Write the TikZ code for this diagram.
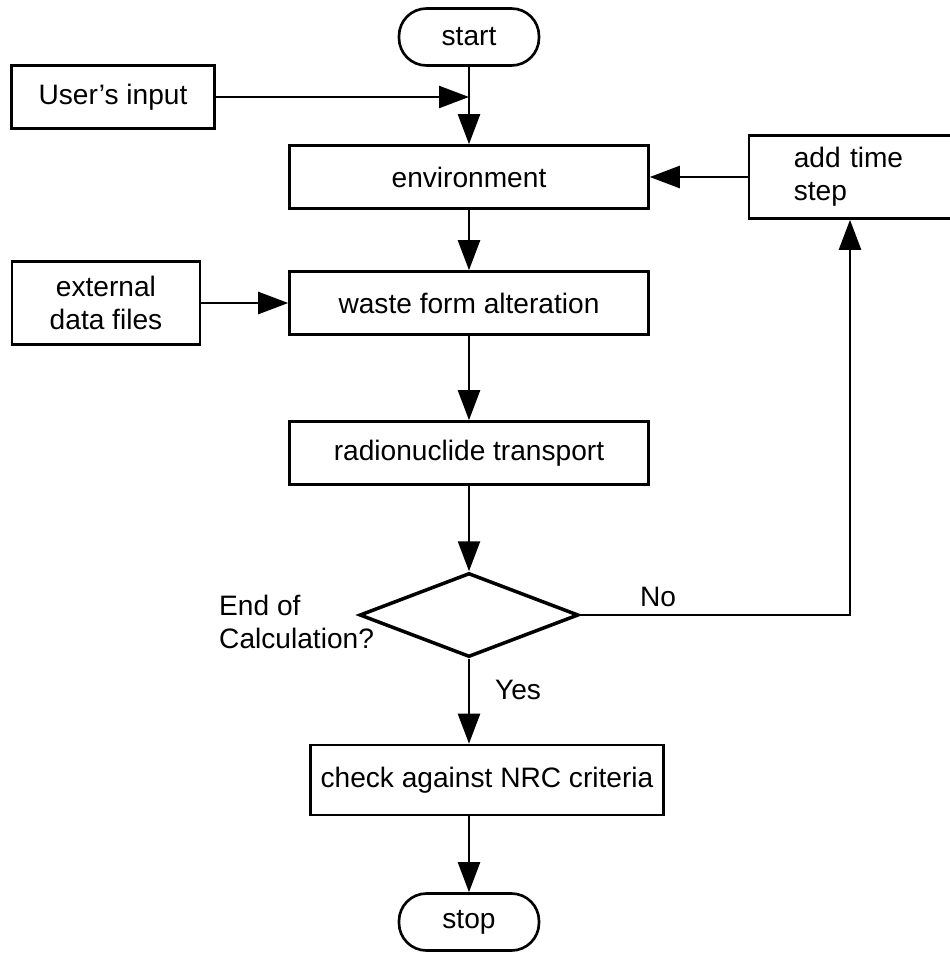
\documentclass[tikz,border=0pt]{standalone}
\usepackage{fontspec}
\setmainfont{Liberation Sans}
\usetikzlibrary{arrows.meta,shapes.geometric}
\tikzset{>={Triangle[length=0.6cm,width=0.44cm]}}
\tikzset{
  box/.style = {draw, line width=1.5pt, inner sep=0pt},
  term/.style = {box, rounded corners=0.55cm,
    minimum width=2.8cm, minimum height=1.14cm},
  decision/.style = {draw, diamond, line width=2pt, inner sep=0pt,
    minimum width=4.38cm, minimum height=1.68cm}
}

\begin{document}
\begin{tikzpicture}[x=0.02cm,y=-0.02cm,line width=1.4pt,
  every node/.style={font=\fontsize{16}{19}\selectfont}]
  \useasboundingbox (0,0) rectangle (950,954);
  \node[term] (start) at (469,37) {start};
  \node[box,minimum width=4.06cm,minimum height=1.26cm] (user) at (113,97) {User's input};
  \node[box,minimum width=7.18cm,minimum height=1.26cm] (env) at (469,177) {environment};
  \node[box,minimum width=4.04cm,minimum height=1.66cm,align=left,
        text width=2.25cm] (step) at (850,177) {add time\\step};
  \node[box,minimum width=3.76cm,minimum height=1.66cm,align=center] (ext) at (106,303) {external\\data files};
  \node[box,minimum width=7.18cm,minimum height=1.26cm] (waste) at (469,303) {waste form alteration};
  \node[box,minimum width=7.18cm,minimum height=1.26cm] (radio) at (469,453) {radionuclide transport};
  \node[decision] (endcalc) at (469,615) {};
  \node[align=left,anchor=west,inner sep=0pt] (endlbl) at (218,622) {End of\\Calculation?};
  \node (no) at (658,597) {No};
  \node (yes) at (518,690) {Yes};
  \node[box,minimum width=7.06cm,minimum height=1.4cm] (check) at (487,780) {check against NRC criteria};
  \node[term] (stop) at (469,922) {stop};
  \coordinate (uj) at (start.south |- user.east);

  \draw[->] (start) -- (env);
  \draw[->] (user) -- (uj);
  \draw[->] (step) -- (env);
  \draw[->] (env) -- (waste);
  \draw[->] (ext) -- (waste);
  \draw[->] (waste) -- (radio);
  \draw[->] (radio) -- (endcalc);
  \draw[->] (endcalc.east) -| (step.south);
  \draw[->] (endcalc.south) -- (endcalc.south |- check.north);
  \draw[->] (check.south -| stop.north) -- (stop.north);
\end{tikzpicture}
\end{document}
